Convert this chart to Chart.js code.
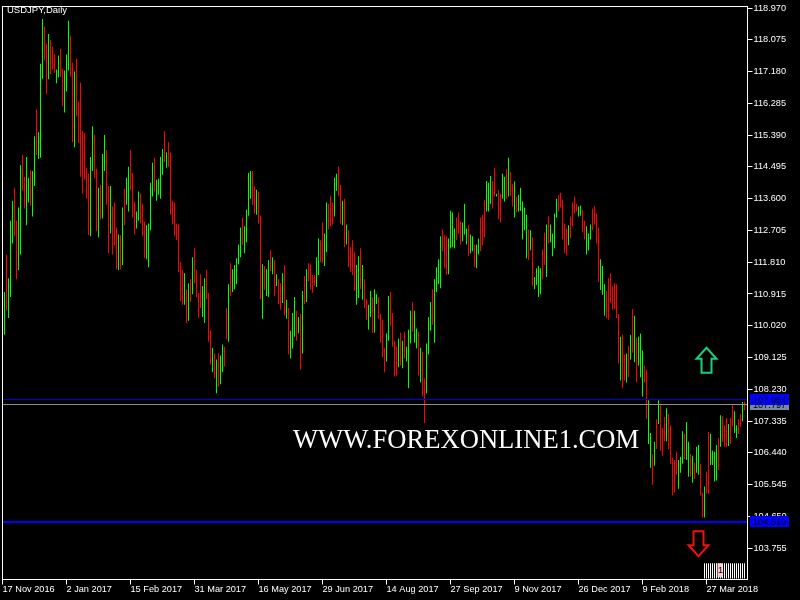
<!DOCTYPE html>
<html>
<head>
<meta charset="utf-8">
<title>USDJPY Daily</title>
<script src="https://cdn.jsdelivr.net/npm/chart.js@4"></script>
<style>
  html, body { margin: 0; padding: 0; background: #000; }
  canvas { display: block; }
</style>
</head>
<body>
<canvas id="myChart" width="800" height="600"></canvas>
<script>
// daily bars, first visible one sits at index 1
const highs = [
  110.97,112.01,111.36,112.98,113.54,113.91,112.98,113.35,114.55,114.83,
  114.22,114.77,114.19,114.41,114.38,115.36,116.12,115.47,117.40,118.66,
  118.44,117.96,118.24,118.07,117.88,117.66,117.24,117.63,117.82,117.26,
  117.21,117.66,118.61,118.19,117.43,117.18,117.54,116.34,116.87,115.50,
  115.45,114.47,114.30,114.77,115.64,115.39,114.44,113.91,113.99,114.86,
  115.39,114.97,113.96,113.96,113.38,113.49,112.79,112.59,112.57,113.35,
  113.88,114.19,114.50,114.97,114.33,113.52,113.24,113.80,113.74,113.46,
  112.96,112.85,112.90,114.05,114.61,114.75,114.13,114.16,114.77,115.00,
  115.50,114.91,115.19,114.89,113.54,113.49,112.90,112.87,111.81,111.59,
  111.50,111.05,111.22,111.33,111.95,112.20,111.59,110.94,111.47,111.14,
  111.36,111.59,110.94,109.88,109.40,109.24,109.07,109.24,109.18,109.49,
  109.43,110.52,111.19,111.78,111.61,111.73,111.92,112.31,112.79,113.07,
  112.82,113.29,114.33,114.38,114.38,113.96,113.85,113.80,113.12,111.75,
  111.70,111.61,111.87,112.15,111.95,111.87,111.47,111.33,111.22,111.50,
  111.73,110.75,110.52,109.88,110.38,110.83,110.44,110.27,110.35,111.00,
  111.42,111.61,111.78,111.75,111.45,111.45,111.95,112.48,112.43,112.93,
  112.62,113.49,113.46,113.68,113.49,114.19,114.30,114.50,113.99,113.54,
  113.60,112.87,112.71,112.23,112.43,112.09,111.73,111.98,112.20,111.73,
  111.33,110.77,110.61,111.00,110.83,111.05,110.91,110.83,110.35,110.19,
  109.40,109.80,110.86,110.97,110.38,109.60,109.43,109.66,109.82,109.60,
  109.85,109.43,109.91,110.44,110.69,110.44,109.94,109.85,109.40,109.29,
  108.54,109.52,110.27,110.69,111.05,111.33,111.67,111.89,112.54,112.73,
  112.57,112.54,112.48,113.26,113.21,112.76,113.07,113.21,112.96,112.93,
  113.46,112.76,112.85,112.59,112.54,112.31,112.31,112.48,113.07,113.15,
  113.57,114.10,114.05,114.24,114.10,114.47,113.74,113.85,113.74,114.30,
  114.22,114.44,114.75,114.35,114.02,114.08,113.66,113.71,113.91,113.52,
  113.35,113.15,112.73,112.71,112.51,111.39,111.64,111.70,111.64,112.17,
  112.65,112.87,113.10,112.87,112.62,113.18,113.60,113.71,113.77,113.57,
  112.90,112.76,112.85,113.10,113.49,113.66,113.46,113.38,113.40,113.29,
  112.98,112.82,112.62,112.87,113.32,113.40,113.18,112.79,111.89,111.70,
  111.19,111.00,111.36,111.50,111.14,111.22,111.19,110.35,109.71,109.77,
  109.21,109.24,109.46,109.77,110.49,110.30,109.68,109.71,109.80,109.32,
  108.90,108.79,107.92,107.00,106.41,106.75,107.39,107.92,107.78,107.14,
  107.45,107.70,107.53,107.22,106.30,106.24,106.47,106.24,106.33,107.05,
  106.97,107.31,106.75,106.41,106.36,106.16,106.61,106.66,106.13,105.32,
  105.49,105.91,107.03,106.97,106.50,106.47,106.66,106.86,107.50,107.47,
  107.22,107.42,107.25,107.42,107.78,107.61,107.22,107.39,107.53,107.87,
  107.89
];
const lows = [
  109.77,110.44,110.24,110.83,112.34,112.54,111.33,111.59,112.03,113.82,
  113.32,112.85,113.49,113.40,113.10,113.96,114.83,114.72,114.75,116.98,
  117.49,116.54,116.96,117.10,117.24,117.15,116.85,117.01,117.04,116.20,
  116.03,116.62,117.21,117.04,115.19,115.05,115.92,115.17,114.22,113.74,
  114.13,113.60,112.57,112.54,114.38,114.19,112.68,112.51,113.01,113.04,
  114.38,113.43,112.06,112.62,112.03,112.29,111.61,111.59,111.61,111.73,
  112.85,113.43,113.24,113.85,113.07,112.59,112.76,112.98,112.90,112.54,
  111.92,111.89,111.67,112.71,113.66,113.80,113.54,113.71,113.60,114.27,
  114.63,114.47,114.50,113.15,112.87,112.54,112.43,111.53,110.72,110.61,
  110.61,110.10,110.16,110.69,110.91,111.22,110.83,110.24,110.52,110.27,
  110.10,110.77,109.57,108.93,108.71,108.54,108.12,108.31,108.37,108.71,
  108.87,109.63,109.57,110.86,110.97,111.05,111.19,111.75,111.95,112.29,
  112.06,112.37,113.12,113.60,113.43,113.18,113.15,112.90,110.77,110.22,
  111.03,110.86,110.83,111.56,111.47,110.86,111.14,110.63,110.47,110.66,
  110.30,110.22,109.21,109.10,109.38,109.71,109.60,109.80,108.79,109.24,
  110.63,110.69,111.28,111.05,110.94,111.14,111.11,111.45,111.81,111.78,
  111.70,112.09,112.73,112.82,112.87,113.10,113.82,113.68,112.90,112.85,
  112.23,112.31,111.67,111.53,111.45,111.00,110.61,110.80,111.05,110.75,
  110.52,110.19,109.91,110.27,109.82,109.82,110.63,110.22,109.54,109.13,
  108.71,109.01,109.60,110.02,109.43,108.59,108.62,108.85,108.90,108.82,
  109.10,109.01,108.26,109.52,109.85,109.54,109.38,108.62,108.42,108.03,
  107.28,108.12,109.21,109.88,110.05,109.54,110.97,111.19,111.08,112.12,
  111.64,111.45,111.47,112.20,112.23,112.20,112.43,112.62,112.31,112.40,
  112.59,112.31,111.98,112.06,112.12,111.67,111.64,112.03,112.12,112.29,
  112.51,113.24,113.24,113.46,113.32,113.66,113.66,113.01,112.93,113.60,
  113.52,113.60,113.66,113.68,113.38,113.07,113.21,113.24,113.26,112.45,
  112.71,111.92,111.87,112.15,111.14,111.05,111.17,110.83,110.91,111.33,
  111.73,111.39,112.34,112.37,111.98,112.20,113.07,113.24,113.35,112.45,
  112.06,112.00,112.29,112.48,112.82,113.18,113.24,113.10,113.12,112.65,
  112.45,112.03,112.15,112.45,112.71,112.87,112.34,111.25,111.03,110.89,
  110.30,110.24,110.19,110.66,110.47,110.49,110.24,108.96,108.48,108.26,
  108.48,108.42,108.57,109.07,109.26,108.99,108.42,108.90,108.57,108.03,
  108.42,107.39,106.69,106.02,105.54,106.08,106.55,107.25,106.50,106.36,
  106.77,106.77,106.55,106.13,105.24,105.32,105.82,105.43,105.88,106.13,
  106.27,106.24,105.77,105.77,105.60,105.71,105.88,105.82,105.24,104.62,
  104.62,105.29,105.29,106.10,106.10,105.63,105.66,105.96,106.61,106.75,
  106.61,106.61,106.63,106.69,107.19,107.00,106.86,106.97,107.17,107.33,
  107.64
];
// 1 = up day (green), 0 = down day (red)
const upDays = [
  1,0,1,1,1,0,0,1,1,0, 0,1,1,0,1,1,0,1,1,1,
  0,0,1,0,0,0,1,1,0,0, 1,1,1,0,0,1,0,0,0,0,
  0,0,0,1,1,0,0,1,0,1, 1,0,0,1,0,0,0,1,0,1,
  0,1,1,0,0,0,1,1,0,0, 0,1,1,1,1,0,1,1,1,1,
  0,1,0,0,0,0,0,0,0,0, 1,0,1,0,1,0,0,0,0,1,
  1,0,0,0,1,0,1,0,1,1, 0,0,1,0,1,1,1,1,1,0,
  1,1,1,1,0,0,1,0,0,1, 0,1,1,0,1,0,1,0,0,1,
  0,1,0,1,1,1,0,1,0,1, 0,1,0,0,0,0,1,1,0,0,
  1,1,0,0,0,1,1,0,0,1, 0,1,0,0,0,0,1,1,0,1,
  0,0,1,1,0,1,1,0,0,0, 0,1,1,0,0,0,0,1,0,1,
  0,1,1,1,0,1,1,0,1,0, 0,1,1,1,0,1,1,1,1,0,
  0,0,1,1,1,1,0,0,0,1, 1,1,0,1,1,0,1,1,0,0,
  0,1,1,1,0,0,1,0,0,1, 1,0,1,0,0,1,0,1,1,1,
  1,1,0,1,0,1,1,1,1,0, 0,1,0,1,1,1,1,0,0,0,
  0,0,1,0,0,0,0,1,1,0, 0,1,1,1,0,0,0,0,1,1,
  1,0,0,0,0,0,0,0,1,0, 0,1,0,1,0,1,0,1,1,1,
  0,0,1,1,0,1,0,1,0,0, 0,1,0,0,0,0,0,1,1,1,
  0,1,1,0,1,0,1,1,0,0, 1,0,0,1,1,1,1,0,1,0,
  0,0,1,0,0,1,1,0,0,1, 0,0,0,1,1,1,0,0,1,1,
  1,1,0,1,0,0,1,1,0
];

// y axis labels as the terminal prints them
const priceTicks = [118.970,118.075,117.180,116.285,115.390,114.495,113.600,112.705,111.810,
  110.915,110.020,109.125,108.230,107.335,106.440,105.545,104.650,103.755];
const dateLabels = ['17 Nov 2016','2 Jan 2017','15 Feb 2017','31 Mar 2017','16 May 2017','29 Jun 2017',
  '14 Aug 2017','27 Sep 2017','9 Nov 2017','26 Dec 2017','9 Feb 2018','27 Mar 2018'];
const dateIndexes = [0,32,64,96,128,160,192,224,256,288,320,352];

// horizontal levels with their price tags
const levelPrices = [107.797,107.954,104.510];
const levelColors = ['#909090','#0000e0','#0000ff'];
const tagColors = ['#778899','#0000ff','#0000ff'];

const arrowIndexes = [352,348];
const arrowPrices = [109.40,103.53];
const arrowColors = ['#14d27c','#f01010'];

// little stripe block bottom right
const stripeIndexes = [351,352,353,354,355,356,357,358,359,360,361,362,363,364,365,366,367,368,369,370,371];
const stripeRange = [102.90,103.33];

const font = '"Liberation Sans", Arial, sans-serif';

const terminalDecor = {
  id: 'terminalDecor',
  afterDraw(chart) {
    const ctx = chart.ctx;
    const area = chart.chartArea;
    const xs = chart.scales.x;
    const ys = chart.scales.y;
    ctx.save();

    // levels
    levelPrices.forEach((price, i) => {
      const y = Math.floor(ys.getPixelForValue(price));
      ctx.fillStyle = levelColors[i];
      ctx.fillRect(area.left, y, area.width, i === 2 ? 2 : 1);
    });

    // frame
    ctx.strokeStyle = '#fff';
    ctx.lineWidth = 1;
    ctx.strokeRect(area.left, area.top, area.width, area.height);

    // price tags on the axis
    ctx.font = '9.2px ' + font;
    ctx.textBaseline = 'middle';
    ctx.textAlign = 'left';
    levelPrices.forEach((price, i) => {
      const y = Math.floor(ys.getPixelForValue(price));
      ctx.fillStyle = tagColors[i];
      ctx.fillRect(750, y - 5, 39, 11);
      ctx.fillStyle = '#000';
      ctx.fillText(price.toFixed(3), 753, y + 1);
    });

    // pink box on top of the stripes
    const pinkX = xs.getPixelForValue(357.5);
    const pinkTop = ys.getPixelForValue(stripeRange[1]);
    ctx.fillStyle = '#ffc8c8';
    ctx.fillRect(pinkX, pinkTop, 5, 14);
    ctx.fillStyle = '#000';
    ctx.textAlign = 'center';
    ctx.fillText('1', pinkX + 3, pinkTop + 7);

    // arrows, anchored at the tip
    arrowIndexes.forEach((idx, i) => {
      const x = xs.getPixelForValue(idx);
      const y = ys.getPixelForValue(arrowPrices[i]);
      const d = i === 0 ? 1 : -1;
      ctx.strokeStyle = arrowColors[i];
      ctx.lineWidth = 2;
      ctx.beginPath();
      ctx.moveTo(x, y);
      ctx.lineTo(x + 10, y + d * 11);
      ctx.lineTo(x + 5, y + d * 11);
      ctx.lineTo(x + 5, y + d * 25);
      ctx.lineTo(x - 5, y + d * 25);
      ctx.lineTo(x - 5, y + d * 11);
      ctx.lineTo(x - 10, y + d * 11);
      ctx.closePath();
      ctx.stroke();
    });

    // title and watermark
    ctx.fillStyle = '#fff';
    ctx.textAlign = 'left';
    ctx.textBaseline = 'alphabetic';
    ctx.font = '9.5px ' + font;
    ctx.fillText('USDJPY,Daily', 7, 13);
    ctx.font = '26.6px "Liberation Serif", serif';
    ctx.fillText('WWW.FOREXONLINE1.COM', 293, 448);

    ctx.restore();
  }
};

new Chart(document.getElementById('myChart'), {
  type: 'bar',
  data: {
    datasets: [{
      data: highs.map((h, i) => ({x: i + 1, y: [lows[i], h]})),
      backgroundColor: upDays.map(u => u ? '#00ff00' : '#ff0000'),
      barThickness: 1,
      borderWidth: 0,
      inflateAmount: 0,
      grouped: false
    }, {
      data: stripeIndexes.map(x => ({x: x, y: stripeRange})),
      backgroundColor: '#fff',
      barThickness: 1,
      borderWidth: 0,
      inflateAmount: 0,
      grouped: false
    }]
  },
  options: {
    responsive: false,
    animation: false,
    layout: {autoPadding: false, padding: {left: 2.5, top: 2.5}},
    plugins: {legend: {display: false}, tooltip: {enabled: false}},
    scales: {
      x: {
        type: 'linear',
        offset: false,
        min: 0,
        max: 372.5,
        afterBuildTicks: axis => { axis.ticks = dateIndexes.map(v => ({value: v})); },
        afterFit: axis => { axis.height = 20.5; },
        grid: {offset: false, drawOnChartArea: false, color: '#fff', tickLength: 5},
        border: {display: false},
        ticks: {
          color: '#fff',
          font: {family: font, size: 9.2},
          align: 'start',
          autoSkip: false,
          maxRotation: 0,
          padding: -1,
          callback: value => dateLabels[dateIndexes.indexOf(value)]
        }
      },
      y: {
        position: 'right',
        min: 102.873,
        max: 119.012,
        afterBuildTicks: axis => { axis.ticks = priceTicks.map(v => ({value: v})); },
        afterFit: axis => { axis.width = 52.5; },
        grid: {drawOnChartArea: false, color: '#fff', tickLength: 5},
        border: {display: false},
        ticks: {
          color: '#fff',
          font: {family: font, size: 9.2},
          autoSkip: false,
          padding: 1,
          callback: value => value.toFixed(3)
        }
      }
    }
  },
  plugins: [terminalDecor]
});
</script>
</body>
</html>
